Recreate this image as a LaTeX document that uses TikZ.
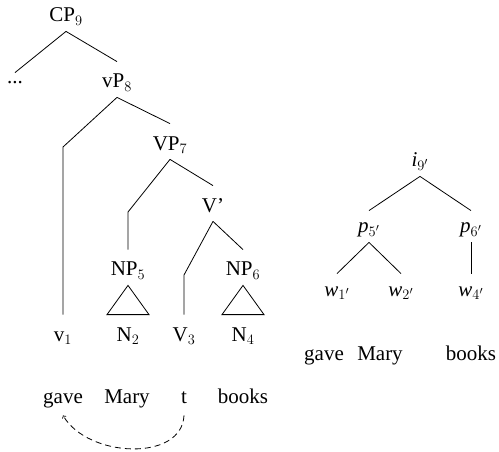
\documentclass[tikz,border=0pt]{standalone}
\usepackage{fontspec}
\setmainfont{Liberation Serif}
\tikzset{
  cat/.style={inner sep=0pt, anchor=base, text height=26pt, text depth=9pt,
    font=\fontsize{21}{25}\selectfont},
  var/.style={cat, text height=22pt},
  word/.style={inner sep=0pt, anchor=base, text height=15pt, text depth=12pt,
    font=\fontsize{21}{25}\selectfont},
}
\begin{document}
\begin{tikzpicture}[x=1pt,y=-1pt,line width=0.8pt]
    \useasboundingbox (0,0) rectangle (499,452);
    % Left tree: labels
    \node[cat] (cp) at (66,22) {CP$_9$};
    \node[cat, text height=11pt] (dots) at (15,84) {...};
    \node[cat] (vp) at (117,88) {vP$_8$};
    \node[cat] (vp7) at (170,150) {VP$_7$};
    \node[cat] (vbar) at (213,212) {V'};
    \node[cat] (np5) at (128,276) {NP$_5$};
    \node[cat] (np6) at (243,276) {NP$_6$};
    \node[cat] (v1) at (63,341) {v$_1$};
    \node[cat] (n2) at (128,341) {N$_2$};
    \node[cat] (v3) at (184,341) {V$_3$};
    \node[cat] (n4) at (243,341) {N$_4$};
    % Left tree: words
    \node[word] (gave) at (63,403) {gave};
    \node[word] (mary) at (127,403) {Mary};
    \node[word] (t) at (184,403) {t};
    \node[word] (books) at (243,403) {books};
    % Left tree: branches
    \draw (cp.south) -- (dots.north);
    \draw (cp.south) -- (vp.north);
    \draw (vp.south) -- (v1.north |- 0,147) -- (v1.north);
    \draw (vp.south) -- (vp7.north);
    \draw (vp7.south) -- (np5.north |- 0,212) -- (np5.north);
    \draw (vp7.south) -- (vbar.north);
    \draw (vbar.south) -- (v3.north |- 0,275) -- (v3.north);
    \draw (vbar.south) -- (np6.north);
    % Triangles
    \draw (np5.south) -- ([xshift=-21pt]n2.north) -- ([xshift=21pt]n2.north) -- cycle;
    \draw (np6.south) -- ([xshift=-21pt]n4.north) -- ([xshift=21pt]n4.north) -- cycle;
    % Movement arrow
    \draw[dash pattern=on 6pt off 4pt, ->] (t.south) .. controls (182,462) and (88,458) .. (gave.south);
    % Right tree
    \node[var] (i9) at (420,167) {\textit{i}$_{9'}$};
    \node[var] (p5) at (369,233) {\textit{p}$_{5'}$};
    \node[var] (p6) at (471,233) {\textit{p}$_{6'}$};
    \node[var] (w1) at (337,296) {\textit{w}$_{1'}$};
    \node[var] (w2) at (401,296) {\textit{w}$_{2'}$};
    \node[var] (w4) at (471,296) {\textit{w}$_{4'}$};
    \draw (i9.south) -- (p5.north);
    \draw (i9.south) -- (p6.north);
    \draw (p5.south) -- (w1.north);
    \draw (p5.south) -- (w2.north);
    \draw (p6.south) -- (w4.north);
    \node[word] (gave2) at (324,360) {gave};
    \node[word] (mary2) at (380,360) {Mary};
    \node[word] (books2) at (471,360) {books};
\end{tikzpicture}
\end{document}
